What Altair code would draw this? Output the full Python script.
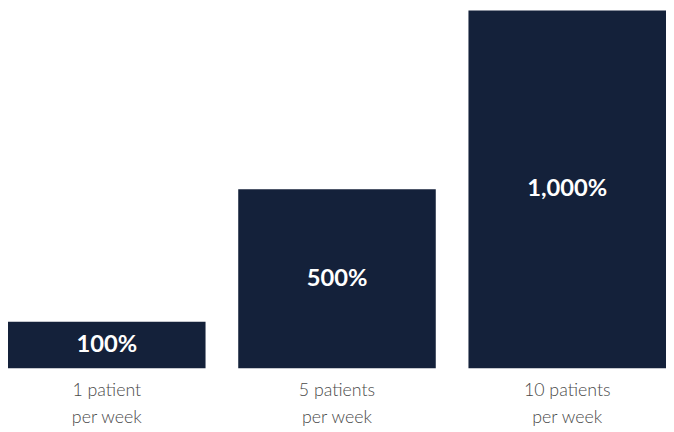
import altair as alt
import pandas as pd

categories = ["1 patient|per week", "5 patients|per week", "10 patients|per week"]
bar_heights = [130, 500, 1000]
labels = ["100%", "500%", "1,000%"]

df = pd.DataFrame({"cat": categories, "value": bar_heights, "label": labels})
df["mid"] = df["value"] / 2

x = alt.X("cat:N", sort=categories, title=None,
          scale=alt.Scale(paddingInner=0.142, paddingOuter=0),
          axis=alt.Axis(labelAngle=0, domain=False, ticks=False, grid=False,
                        labelExpr="split(datum.label, '|')",
                        labelFont="Lato", labelFontWeight=300, labelFontSize=18,
                        labelColor="#4a4a4a", labelLineHeight=27, labelPadding=14,
                        labelBaseline="top"))

base = alt.Chart(df)
bars = base.mark_bar(color="#14213a").encode(
    x=x,
    y=alt.Y("value:Q", scale=alt.Scale(domain=[0, 1000], nice=False), axis=None),
)
text = base.mark_text(color="white", font="Lato", fontWeight="bold", fontSize=24,
                      baseline="middle").encode(
    x=alt.X("cat:N", sort=categories),
    y=alt.Y("mid:Q"),
    text="label:N",
)

chart = (bars + text).properties(
    width=666, height=362,
    padding={"left": 0, "right": 0, "top": 0, "bottom": 0},
).configure(background="white").configure_view(stroke=None, strokeWidth=0)

chart.save("out.html", embed_options={"renderer": "svg", "actions": False})
